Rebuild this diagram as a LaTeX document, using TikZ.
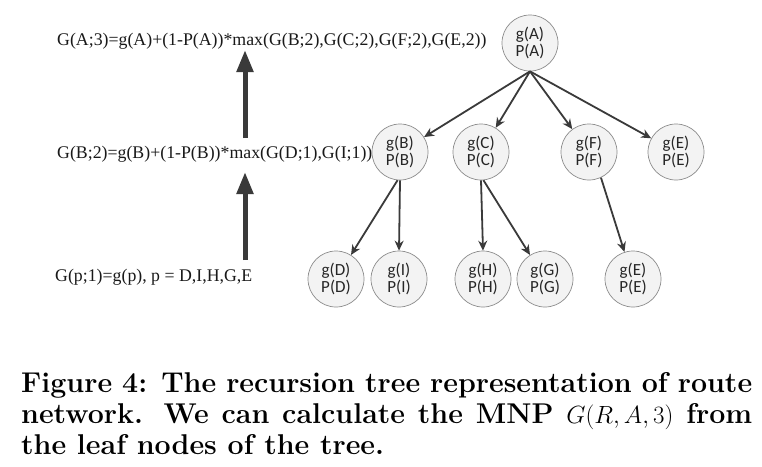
\documentclass[tikz,border=0pt]{standalone}
\usepackage{fontspec}
\setmainfont{Latin Modern Roman}
\newfontfamily\calib{Carlito}
\newfontfamily\timesf{Liberation Serif}
\usetikzlibrary{arrows.meta}
\definecolor{edgegray}{HTML}{3A3A3A}
\definecolor{circgray}{HTML}{8C8C8C}
\definecolor{circfill}{HTML}{F3F3F3}
\tikzset{
  treenode/.style={circle, draw=circgray, line width=0.7pt, fill=circfill,
    minimum size=56pt, inner sep=0pt, align=center,
    font=\calib\fontsize{17}{16.5}\selectfont, text=black!85},
  treeedge/.style={draw=edgegray, line width=1.8pt,
    -{Stealth[length=10pt,width=9pt]}},
  bigarrow/.style={draw=edgegray, line width=5pt,
    -{Triangle[length=22pt,width=16pt]}},
  formula/.style={anchor=base west, inner sep=0pt,
    font=\timesf\fontsize{17.8}{20}\selectfont, text=black!90},
  captionline/.style={anchor=base west, inner sep=0pt,
    font=\fontsize{28.6}{32}\selectfont\bfseries}
}
\begin{document}
\begin{tikzpicture}[x=1pt,y=-1pt]
\useasboundingbox[fill=white] (0,0) rectangle (762,466);
% formulas
\node[formula] (f1) at (57,45) {G(A;3)=g(A)+(1-P(A))*max(G(B;2),G(C;2),G(F;2),G(E,2))};
\node[formula] (f2) at (57,158) {G(B;2)=g(B)+(1-P(B))*max(G(D;1),G(I;1))};
\node[formula] (f3) at (55,281) {G(p;1)=g(p), p = D,I,H,G,E};
\coordinate (a1s) at (245,138);
\coordinate (a1e) at (245,50);
\coordinate (a2s) at (245,260);
\coordinate (a2e) at (245,172);
\draw[bigarrow] (a1s) -- (a1e);
\draw[bigarrow] (a2s) -- (a2e);
% tree
\node[treenode] (A) at (530,43) {g(A)\\P(A)};
\node[treenode] (B) at (400,152) {g(B)\\P(B)};
\node[treenode] (C) at (481,152) {g(C)\\P(C)};
\node[treenode] (F) at (589,152) {g(F)\\P(F)};
\node[treenode] (E1) at (676,152) {g(E)\\P(E)};
\node[treenode] (D) at (336,279) {g(D)\\P(D)};
\node[treenode] (I) at (399,279) {g(I)\\P(I)};
\node[treenode] (H) at (483,279) {g(H)\\P(H)};
\node[treenode] (G) at (545,279) {g(G)\\P(G)};
\node[treenode] (E2) at (633,279) {g(E)\\P(E)};
\draw[treeedge] (A.south) -- (B);
\draw[treeedge] (A.south) -- (C);
\draw[treeedge] (A.south) -- (F);
\draw[treeedge] (A.south) -- (E1);
\draw[treeedge] (B.-95) -- (D);
\draw[treeedge] (B.south) -- (I.north);
\draw[treeedge] (C.south) -- (H.north);
\draw[treeedge] (C.-85) -- (G);
\draw[treeedge] (F.-65) -- (E2);
% caption
\node[captionline] (c1) at (21,392) {\makebox[731pt][s]{Figure 4: The recursion tree representation of route}};
\node[captionline] (c2) at (21,423) {\makebox[731pt][s]{network. We can calculate the MNP $G(R,A,3)$ from}};
\node[captionline] (c3) at (21,454) {the leaf nodes of the tree.};
\end{tikzpicture}
\end{document}
